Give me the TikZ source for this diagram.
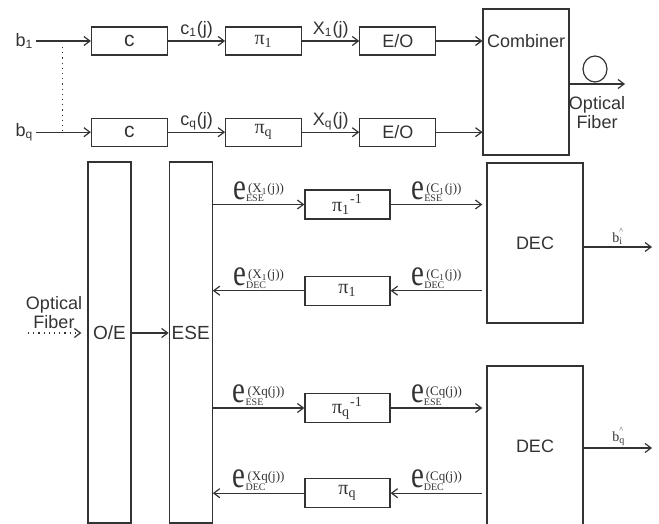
\documentclass[tikz,border=0pt]{standalone}
\usepackage{fontspec}
\setmainfont{Liberation Sans}
\newfontfamily\tnr{Liberation Serif}
\usepackage{graphicx}
\usetikzlibrary{shapes.geometric, arrows.meta, positioning}

% soft-output label: big e, subscript block, superscript argument
\newcommand{\elab}[2]{{\tnr\fontsize{14.5}{14.5}\selectfont\scalebox{1}[1.3]{e}}%
  \rlap{\raisebox{-1.4pt}{\tnr\fontsize{5}{5}\selectfont #1}}%
  \hspace{1pt}\raisebox{3.4pt}{\tnr\fontsize{6.5}{6.5}\selectfont (#2)}}
% decoded bit estimate
\newcommand{\bhat}[1]{{\tnr\fontsize{7}{7}\selectfont b\rlap{\raisebox{-0.8pt}{\fontsize{5}{5}\selectfont #1}}\raisebox{4.6pt}{\fontsize{4}{4}\selectfont\textasciicircum}}}

\begin{document}
\begin{tikzpicture}[
  x=0.5pt, y=-0.5pt,
  line width=0.6pt, color=black!80,
  font=\fontsize{9}{10}\selectfont,
  blk/.style={rectangle, draw, minimum width=38pt, minimum height=14pt, inner sep=0pt},
  pbox/.style={blk, font=\tnr\fontsize{10}{10}\selectfont},
  perm/.style={rectangle, draw, minimum width=42.5pt, minimum height=14.5pt, inner sep=0pt, font=\tnr\fontsize{10}{10}\selectfont},
  tall/.style={rectangle, draw, minimum width=21.5pt, minimum height=180.5pt},
  dec/.style={rectangle, draw, minimum width=48pt, minimum height=80pt},
  lbl/.style={inner sep=1pt},
  arr/.style={-{Straight Barb[length=3pt, width=4.5pt]}},
  dotarr/.style={arr, dotted}
]
\useasboundingbox (0,0) rectangle (659,524);
\clip (0,0) rectangle (659,524);

% transmitter
\node[lbl, anchor=west] (b1) at (13,41) {b\textsubscript{1}};
\node[blk, right=27.5pt of b1, font=\fontsize{10.5}{10}\selectfont] (enc1) {c};
\node[pbox, right=28.5pt of enc1] (pi1) {π\textsubscript{1}};
\node[blk, right=28.5pt of pi1] (eo1) {E/O};
\node[blk, below=31pt of enc1, font=\fontsize{10.5}{10}\selectfont] (encq) {c};
\node[lbl, left=27.5pt of encq] (bq) {b\textsubscript{q}};
\node[pbox, right=28.5pt of encq] (piq) {π\textsubscript{q}};
\node[blk, right=28.5pt of piq] (eoq) {E/O};
\node[rectangle, draw, minimum width=43pt, minimum height=73pt, right=23pt of eo1, yshift=-20.5pt,
  label={[anchor=center, yshift=-16.5pt]north:Combiner}] (comb) {};

\draw[arr] (b1) -- (enc1);
\draw[arr] (enc1) -- node[lbl, above] {c\textsubscript{1}(j)} (pi1);
\draw[arr] (pi1) -- node[lbl, above] {X\textsubscript{1}(j)} (eo1);
\draw[arr] (eo1) -- (eo1 -| comb.west);
\draw[arr] (bq) -- (encq);
\draw[arr] (encq) -- node[lbl, above] {c\textsubscript{q}(j)} (piq);
\draw[arr] (piq) -- node[lbl, above] {X\textsubscript{q}(j)} (eoq);
\draw[arr] (eoq) -- (eoq -| comb.west);

\path (b1.east) -- (enc1.west) coordinate[pos=0.48] (tap1);
\path (bq.east) -- (encq.west) coordinate[pos=0.48] (tapq);
\draw[dotted] ([yshift=-3pt]tap1) -- (tapq);

\coordinate (fib) at (625,84);
\draw[arr] (fib -| comb.east) -- (fib);
\node[draw, ellipse, minimum width=12pt, minimum height=13pt, inner sep=0pt] (coil) at (595,69) {};
\node[align=center, font=\fontsize{9}{9.5}\selectfont] (fibtxt) at (597,113) {Optical\\Fiber};

% receiver
\node[tall, label={[yshift=4.75pt, font=\fontsize{9.5}{10}\selectfont]center:O/E}] (oe) at (109.5,342.5) {};
\node[tall, right=18.5pt of oe, label={[yshift=4.75pt, font=\fontsize{9.5}{10}\selectfont]center:ESE}] (ese) {};
\coordinate (fibin) at (28,333);
\node[align=center, font=\fontsize{9}{9.5}\selectfont] (fibtxt2) at (54,313) {Optical\\Fiber};
\draw[dotarr] (fibin) -- ([xshift=-3pt]fibin -| oe.west);
\draw[arr] (fibin -| oe.east) -- (fibin -| ese.west);

\node[perm] (ip1) at (347.5,204.5) {π\textsubscript{1}\textsuperscript{-1}};
\node[perm, below=28pt of ip1] (pf1) {π\textsubscript{1}};
\node[dec] (dec1) at (535,243) {DEC};
\node[perm] (ipq) at (347.5,408) {π\textsubscript{q}\textsuperscript{-1}};
\node[perm, below=27.5pt of ipq] (pfq) {π\textsubscript{q}};
\node[dec] (dec2) at (535,446) {DEC};

\draw[arr] (ip1.west -| ese.east) -- node[lbl, above] {\elab{ESE}{X\textsubscript{1}(j)}} (ip1.west);
\draw[arr] (ip1.east) -- node[lbl, above] {\elab{ESE}{C\textsubscript{1}(j)}} ([xshift=-2pt]ip1.east -| dec1.west);
\draw[arr] ([xshift=-2pt]pf1.east -| dec1.west) -- node[lbl, above] {\elab{DEC}{C\textsubscript{1}(j)}} (pf1.east);
\draw[arr] (pf1.west) -- node[lbl, above] {\elab{DEC}{X\textsubscript{1}(j)}} (pf1.west -| ese.east);

\draw[arr] (ipq.west -| ese.east) -- node[lbl, above] {\elab{ESE}{Xq(j)}} (ipq.west);
\draw[arr] (ipq.east) -- node[lbl, above] {\elab{ESE}{Cq(j)}} ([xshift=-2pt]ipq.east -| dec2.west);
\draw[arr] ([xshift=-2pt]pfq.east -| dec2.west) -- node[lbl, above] {\elab{DEC}{Cq(j)}} (pfq.east);
\draw[arr] (pfq.west) -- node[lbl, above] {\elab{DEC}{Xq(j)}} (pfq.west -| ese.east);

\coordinate (out1) at (652,247);
\draw[arr] (out1 -| dec1.east) -- node[lbl, above] {\bhat{i}} (out1);
\coordinate (outq) at (652,448);
\draw[arr] (outq -| dec2.east) -- node[lbl, above] {\bhat{q}} (outq);
\end{tikzpicture}
\end{document}
